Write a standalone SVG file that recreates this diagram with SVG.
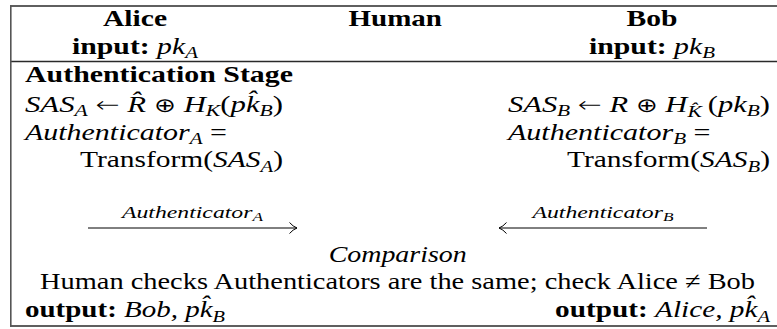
<svg xmlns="http://www.w3.org/2000/svg" width="777" height="329" viewBox="0 0 777 329" font-family="Liberation Serif, Times New Roman, serif">
<style>
text { font-family: "Liberation Serif", "Times New Roman", serif; font-size: 23.5px; fill: #000; }
.b { font-weight: bold; }
.i { font-style: italic; }
.s { font-size: 16.5px; }
.op { font-family: "DejaVu Sans", sans-serif; font-weight: 200; font-size: 20px; }
.ar { font-family: "DejaVu Sans", sans-serif; font-weight: 200; font-size: 22px; }
.lbl { font-size: 16.5px; font-style: italic; }
.lbls { font-size: 12px; font-style: italic; }
.rule { stroke: #2a2a2a; stroke-width: 1.3; fill: none; }
.arrow { stroke: #000; stroke-width: 1; fill: none; }
</style>
<defs>
<marker id="head" viewBox="0 0 8 12" refX="8" refY="6" markerWidth="8" markerHeight="12" markerUnits="userSpaceOnUse" orient="auto">
<path d="M0.5,0.5 Q4,4.5 8,6 Q4,7.5 0.5,11.5" stroke="#000" stroke-width="1" fill="none"/>
</marker>
</defs>

<g id="table-frame">
<line class="rule" x1="10" y1="6" x2="777" y2="6"/>
<line class="rule" x1="10" y1="61.5" x2="777" y2="61.5"/>
<line class="rule" x1="10" y1="326" x2="777" y2="326"/>
<line x1="10.8" y1="5.4" x2="10.8" y2="326.6" stroke="#555" stroke-width="1.6"/>
</g>

<g id="alice">
<text class="b" x="103" y="26" textLength="64" lengthAdjust="spacingAndGlyphs">Alice</text>
<text x="72" y="53.5" textLength="126" lengthAdjust="spacingAndGlyphs"><tspan class="b">input: </tspan><tspan class="i">pk</tspan><tspan class="i s" dy="4.5">A</tspan></text>
<text class="b" x="25" y="82" textLength="268" lengthAdjust="spacingAndGlyphs">Authentication Stage</text>
<text x="25" y="111.5" textLength="258" lengthAdjust="spacingAndGlyphs"><tspan class="i">SAS</tspan><tspan class="i s" dy="4.5">A</tspan><tspan dy="-4.5"> </tspan><tspan class="ar">←</tspan><tspan> </tspan><tspan class="i">R&#x302;</tspan><tspan> </tspan><tspan class="op">⊕</tspan><tspan> </tspan><tspan class="i">H</tspan><tspan class="i s" dy="4.5">K</tspan><tspan dy="-4.5">(</tspan><tspan class="i">pk&#x302;</tspan><tspan class="i s" dy="4.5">B</tspan><tspan dy="-4.5">)</tspan></text>
<text x="25" y="139.5" textLength="202" lengthAdjust="spacingAndGlyphs"><tspan class="i">Authenticator</tspan><tspan class="i s" dy="4.5">A</tspan><tspan dy="-4.5"> =</tspan></text>
<text x="80" y="167" textLength="203" lengthAdjust="spacingAndGlyphs">Transform(<tspan class="i">SAS</tspan><tspan class="i s" dy="4.5">A</tspan><tspan dy="-4.5">)</tspan></text>
<text x="25" y="317" textLength="200" lengthAdjust="spacingAndGlyphs"><tspan class="b">output: </tspan><tspan class="i">Bob, pk&#x302;</tspan><tspan class="i s" dy="4.5">B</tspan></text>
</g>

<g id="human">
<text class="b" x="348.5" y="26" textLength="93.5" lengthAdjust="spacingAndGlyphs">Human</text>
<text class="i" x="328.7" y="261.5" textLength="138" lengthAdjust="spacingAndGlyphs">Comparison</text>
<text x="40" y="289.3" textLength="715" lengthAdjust="spacingAndGlyphs">Human checks Authenticators are the same; check Alice ≠ Bob</text>
</g>

<g id="bob">
<text class="b" x="626.5" y="26" textLength="51" lengthAdjust="spacingAndGlyphs">Bob</text>
<text x="589" y="53.5" textLength="126" lengthAdjust="spacingAndGlyphs"><tspan class="b">input: </tspan><tspan class="i">pk</tspan><tspan class="i s" dy="4.5">B</tspan></text>
<text x="508" y="111.5" textLength="262" lengthAdjust="spacingAndGlyphs"><tspan class="i">SAS</tspan><tspan class="i s" dy="4.5">B</tspan><tspan dy="-4.5"> </tspan><tspan class="ar">←</tspan><tspan> </tspan><tspan class="i">R</tspan><tspan> </tspan><tspan class="op">⊕</tspan><tspan> </tspan><tspan class="i">H</tspan><tspan class="i s" dy="5.5">K&#x302;</tspan><tspan dy="-5.5">&#x2009;(</tspan><tspan class="i">pk</tspan><tspan class="i s" dy="4.5">B</tspan><tspan dy="-4.5">)</tspan></text>
<text x="508" y="139.5" textLength="202.5" lengthAdjust="spacingAndGlyphs"><tspan class="i">Authenticator</tspan><tspan class="i s" dy="4.5">B</tspan><tspan dy="-4.5"> =</tspan></text>
<text x="567" y="167" textLength="203" lengthAdjust="spacingAndGlyphs">Transform(<tspan class="i">SAS</tspan><tspan class="i s" dy="4.5">B</tspan><tspan dy="-4.5">)</tspan></text>
<text x="555" y="317" textLength="215" lengthAdjust="spacingAndGlyphs"><tspan class="b">output: </tspan><tspan class="i">Alice, pk&#x302;</tspan><tspan class="i s" dy="4.5">A</tspan></text>
</g>

<g id="connectors">
<line class="arrow" x1="88" y1="228" x2="297" y2="228" marker-end="url(#head)"/>
<text x="122" y="218" textLength="141" lengthAdjust="spacingAndGlyphs"><tspan class="lbl">Authenticator</tspan><tspan class="lbls" dy="3">A</tspan></text>
<line class="arrow" x1="707" y1="228" x2="499" y2="228" marker-end="url(#head)"/>
<text x="532.5" y="218" textLength="141" lengthAdjust="spacingAndGlyphs"><tspan class="lbl">Authenticator</tspan><tspan class="lbls" dy="3">B</tspan></text>
</g>
</svg>
